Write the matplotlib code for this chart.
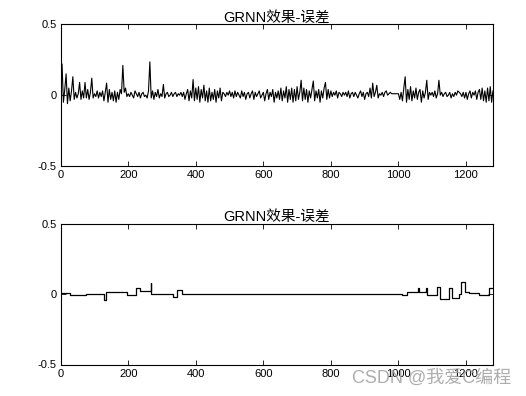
import numpy as np
import matplotlib
matplotlib.use("Agg")
import matplotlib.pyplot as plt

# ---------------- data ----------------
title_text = "GRNN效果-误差"
watermark = "CSDN @我爱C编程"
x_ticks = [0, 200, 400, 600, 800, 1000, 1200]
y_ticks = [-0.5, 0, 0.5]
y_tick_labels = ["-0.5", "0", "0.5"]
x_max = 1281
sample_step = 4  # top series read every 4 samples

top_error = [
    0.02, 0.22, -0.05, 0.04, 0.15, -0.06, 0.05, -0.04, 0.03, 0.13,
    -0.03, 0.02, -0.02, 0.01, 0.09, -0.03, 0.03, -0.02, 0.09, -0.02,
    0.04, -0.03, 0.02, 0.12, -0.02, 0.01, -0.01, 0.03, -0.02, 0.02,
    -0.01, 0.03, -0.04, 0.02, 0.085, -0.05, 0.04, -0.03, 0.02, -0.04,
    0.03, -0.05, 0.02, -0.03, 0.04, 0.01, 0.21, 0.02, 0.05, -0.01,
    0.01, -0.01, 0.02, 0.0, -0.02, 0.03, 0.01, -0.01, 0.02, -0.02,
    0.01, 0.02, -0.01, 0.0, -0.02, 0.03, 0.235, -0.02, 0.03, -0.03,
    0.02, -0.01, 0.04, -0.02, 0.01, -0.01, 0.075, -0.02, 0.01, 0.02,
    -0.01, 0.0, 0.02, -0.01, 0.01, 0.02, -0.01, 0.01, 0.0, 0.02,
    -0.01, 0.02, -0.03, 0.01, 0.04, -0.04, 0.03, -0.02, 0.11, -0.04,
    0.05, -0.03, 0.06, -0.05, 0.04, -0.02, 0.07, -0.04, 0.03, -0.05,
    0.05, -0.04, 0.02, -0.03, 0.04, -0.05, 0.03, -0.02, 0.05, -0.04,
    0.02, 0.01, -0.01, 0.02, 0.0, 0.03, -0.01, 0.02, -0.02, 0.03,
    -0.01, 0.02, 0.0, -0.02, 0.03, -0.01, 0.02, -0.03, 0.01, 0.02,
    -0.02, 0.01, 0.03, -0.03, 0.02, -0.01, 0.01, 0.03, -0.02, 0.0,
    0.02, -0.04, 0.01, 0.04, -0.03, 0.02, -0.01, 0.04, -0.05, 0.02,
    -0.02, 0.03, -0.03, 0.05, -0.04, 0.03, -0.02, 0.06, -0.05, 0.04,
    -0.03, 0.05, -0.05, 0.04, -0.04, 0.06, -0.03, 0.02, 0.105, -0.04,
    0.05, -0.03, 0.04, -0.05, 0.03, -0.02, 0.04, 0.10, -0.04, 0.03,
    -0.02, 0.04, -0.05, 0.03, -0.02, 0.05, 0.09, -0.03, 0.04, -0.02,
    0.03, -0.01, 0.02, 0.0, 0.03, -0.02, 0.02, 0.01, -0.01, 0.02,
    0.0, 0.02, -0.01, 0.03, -0.02, 0.01, 0.02, -0.01, 0.02, 0.0,
    -0.02, 0.01, 0.03, -0.01, 0.02, -0.03, 0.01, 0.02, -0.01, 0.05,
    -0.02, 0.085, -0.01, 0.02, 0.07, -0.02, 0.01, 0.0, 0.02, -0.01,
    0.02, 0.03, 0.0, 0.01, 0.02, 0.01, 0.01, 0.01, 0.01, 0.01,
    0.01, -0.03, 0.02, -0.04, 0.05, 0.13, -0.05, 0.04, -0.03, 0.06,
    -0.04, 0.03, -0.02, 0.05, -0.03, 0.02, 0.04, -0.05, 0.03, -0.02,
    0.02, 0.105, -0.03, 0.02, 0.0, 0.02, -0.01, 0.03, -0.02, 0.01,
    0.105, 0.0, 0.02, -0.01, 0.01, 0.02, -0.01, 0.0, 0.02, -0.02,
    0.01, -0.01, 0.02, 0.0, 0.03, 0.02, 0.01, -0.01, 0.02, -0.02,
    0.02, -0.03, 0.01, 0.03, -0.02, 0.02, 0.0, 0.03, -0.03, 0.02,
    0.04, -0.03, 0.05, -0.04, 0.03, -0.05, 0.05, -0.04, 0.06, -0.05,
    0.03,
]

bottom_break = [0, 27, 76, 128, 133, 197, 224, 234, 266, 268, 333, 345, 359,
                1012, 1024, 1058, 1062, 1083, 1086, 1115, 1123, 1151, 1158,
                1180, 1186, 1197, 1210, 1240, 1268, 1280]
bottom_level = [0.005, -0.005, 0.0, -0.04, 0.012, -0.01, 0.045, 0.02, 0.077, 0.0,
                -0.023, 0.03, 0.0, -0.007, 0.012, 0.04, 0.012, 0.04, -0.01, 0.047,
                -0.035, 0.04, -0.03, 0.0, 0.083, 0.012, 0.005, -0.01, 0.04, 0.04]

# ---------------- figure ----------------
W, H = 526, 396
fig = plt.figure(figsize=(W / 100, H / 100), dpi=100)
fig.patch.set_facecolor("white")
fam = ["Liberation Sans", "Noto Sans CJK SC"]


def axes_px(left, top, right, bottom):
    return fig.add_axes([left / W, 1 - bottom / H, (right - left) / W, (bottom - top) / H])


def style(ax):
    ax.set_xlim(0, x_max)
    ax.set_ylim(-0.5, 0.5)
    ax.set_xticks(x_ticks)
    ax.set_xticklabels([str(t) for t in x_ticks], family=fam, fontsize=8)
    ax.set_yticks(y_ticks)
    ax.set_yticklabels(y_tick_labels, family=fam, fontsize=8)
    ax.tick_params(direction="in", top=True, right=True, length=3.5, width=0.6,
                   pad=3, colors="black")
    for s in ax.spines.values():
        s.set_linewidth(0.8)
        s.set_color("black")
    ax.set_title(title_text, family=fam, fontsize=10.5, pad=2)


ax1 = axes_px(60.7, 24.3, 493.3, 166)
x_top = np.arange(len(top_error)) * sample_step
ax1.plot(x_top, top_error, color="black", linewidth=0.8)
style(ax1)

ax2 = axes_px(60.7, 223.5, 493.3, 364.5)
ax2.plot(bottom_break, bottom_level, color="black", linewidth=0.9, drawstyle="steps-post")
style(ax2)

fig.text(352 / W, 1 - 378 / H, watermark, family=fam, fontsize=13,
         color="#a0a0a0", alpha=0.85, ha="left", va="center")

fig.savefig("out.png", dpi=100)
